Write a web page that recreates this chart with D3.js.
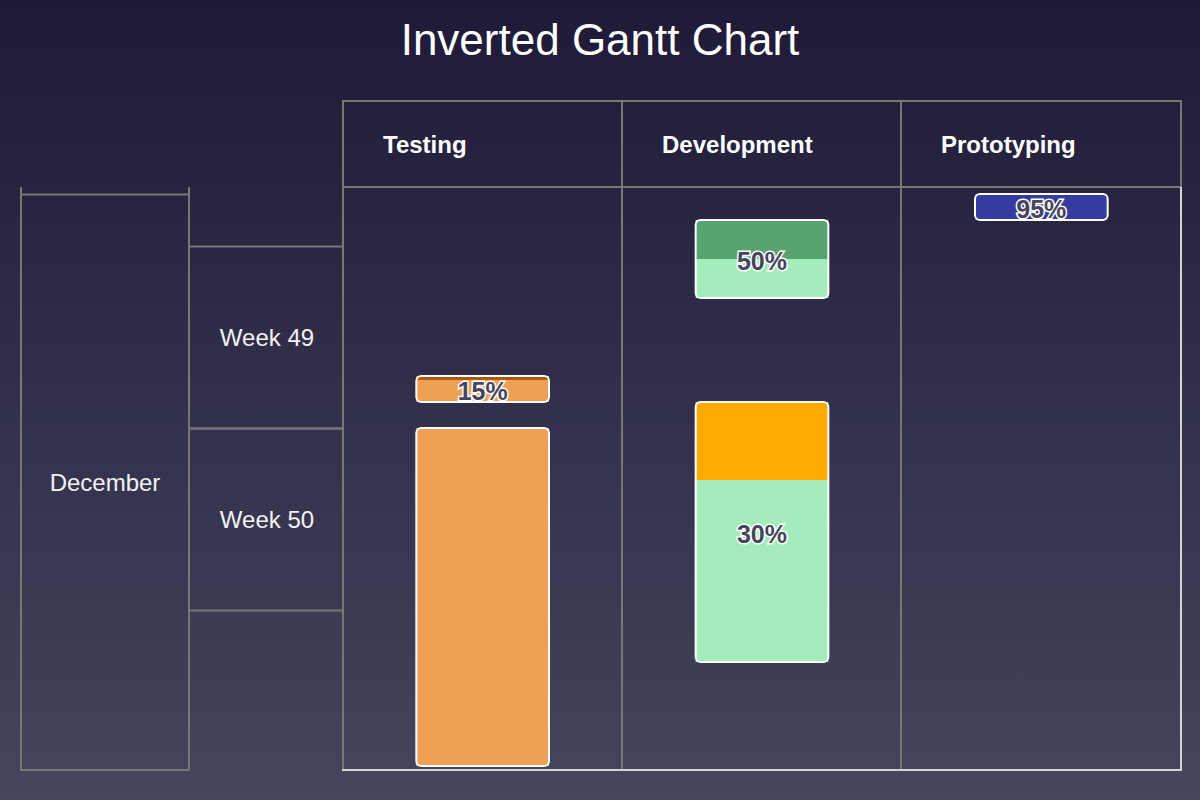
<!DOCTYPE html>
<html>
  <head>
    <title>Inverted Gantt Chart</title>
    <meta charset="utf-8">
    <style>
      body { margin: 0; }
      text { font-family: "Liberation Sans", Arial, sans-serif; }
      .grid { stroke: #777; stroke-width: 2px; fill: none; }
      .axis-line { stroke: #d4d4d4; stroke-width: 2px; }
      .pct {
        font-weight: bold;
        font-size: 25px;
        fill: #45455c;
        stroke: #fff;
        stroke-width: 3px;
        paint-order: stroke;
      }
    </style>
  </head>
  <body>
    <script src="https://cdn.jsdelivr.net/npm/d3@7"></script>
    <script>

// columns (task groups)
var categories = ['Testing', 'Development', 'Prototyping'];

// tasks
var taskCategory = ['Testing', 'Testing', 'Development', 'Development', 'Prototyping'];
var taskStart = ['2023-12-08', '2023-12-10', '2023-12-02', '2023-12-09', '2023-12-01'];
var taskEnd = ['2023-12-09', '2023-12-23', '2023-12-05', '2023-12-19', '2023-12-02'];
var taskProgress = [15, null, 50, 30, 95];

// time axis levels
var monthLabels = ['December'];
var monthStart = ['2023-12-01'];
var monthEnd = ['2024-01-01'];
var weekLabels = ['Week 49', 'Week 50'];
var weekStart = ['2023-12-03', '2023-12-10'];
var weekEnd = ['2023-12-10', '2023-12-17'];

// colours per task
var barColors = ['#f0a055', '#f0a055', '#a4ecbc', '#a4ecbc', '#363b9f'];
var progressColors = ['#a9580c', '#a9580c', '#58a470', '#ffaa00', '#363b9f'];

var parse = d3.timeParse('%Y-%m-%d');

var width = 1200;
var height = 800;
var plotLeft = 343, plotRight = 1181, plotTop = 187, plotBottom = 770;
var headerTop = 101;

var svg = d3.select('body').append('svg')
    .attr('width', width)
    .attr('height', height);

var defs = svg.append('defs');
var grad = defs.append('linearGradient')
    .attr('id', 'bg')
    .attr('x1', 0).attr('y1', 0).attr('x2', 0).attr('y2', 1);
grad.append('stop').attr('offset', 0).attr('stop-color', '#1e1a37');
grad.append('stop').attr('offset', 1).attr('stop-color', '#45455d');

svg.append('rect')
    .attr('width', width)
    .attr('height', height)
    .attr('fill', 'url(#bg)');

svg.append('text')
    .attr('x', width / 2)
    .attr('y', 55)
    .attr('text-anchor', 'middle')
    .attr('font-size', 44)
    .attr('fill', '#fff')
    .text('Inverted Gantt Chart');

var x = d3.scaleBand()
    .domain(categories)
    .range([plotLeft, plotRight]);

var y = d3.scaleTime()
    .domain([new Date(2023, 10, 30, 17, 6), new Date(2023, 11, 23, 3, 14)])
    .range([plotTop, plotBottom]);

function yc(d) { return Math.max(plotTop, Math.min(plotBottom, y(d))); }

// header
var header = svg.append('g');
header.append('rect')
    .attr('class', 'grid')
    .attr('x', plotLeft).attr('y', headerTop)
    .attr('width', plotRight - plotLeft)
    .attr('height', plotTop - headerTop);

header.selectAll('line')
    .data(categories.slice(1))
    .join('line')
    .attr('class', 'grid')
    .attr('x1', function (d) { return Math.floor(x(d)); })
    .attr('x2', function (d) { return Math.floor(x(d)); })
    .attr('y1', headerTop).attr('y2', plotTop);

header.selectAll('text')
    .data(categories)
    .join('text')
    .attr('x', function (d) { return Math.floor(x(d)) + 40; })
    .attr('y', 153)
    .attr('font-size', 24)
    .attr('font-weight', 'bold')
    .attr('fill', '#fff')
    .text(function (d) { return d; });

// plot grid
var grid = svg.append('g');
grid.selectAll('line.col')
    .data(categories)
    .join('line')
    .attr('class', 'grid col')
    .attr('x1', function (d) { return Math.floor(x(d)); })
    .attr('x2', function (d) { return Math.floor(x(d)); })
    .attr('y1', plotTop).attr('y2', plotBottom);

// month level
var monthX0 = 21, monthX1 = 189;
var months = svg.append('g');
months.append('line').attr('class', 'grid')
    .attr('x1', monthX0).attr('x2', monthX0).attr('y1', plotTop).attr('y2', plotBottom + 1);
months.append('line').attr('class', 'grid')
    .attr('x1', monthX1).attr('x2', monthX1).attr('y1', plotTop).attr('y2', plotBottom + 1);
months.append('line').attr('class', 'grid')
    .attr('x1', monthX0).attr('x2', monthX1).attr('y1', plotBottom).attr('y2', plotBottom);

monthLabels.forEach(function (label, i) {
  var y0 = yc(parse(monthStart[i])), y1 = yc(parse(monthEnd[i]));
  months.append('line').attr('class', 'grid')
      .attr('x1', monthX0).attr('x2', monthX1).attr('y1', y0).attr('y2', y0);
  months.append('text')
      .attr('x', (monthX0 + monthX1) / 2)
      .attr('y', (y0 + y1) / 2)
      .attr('dy', '0.35em')
      .attr('text-anchor', 'middle')
      .attr('font-size', 24)
      .attr('fill', '#f2f2f2')
      .text(label);
});

// week level
var weekX0 = monthX1, weekX1 = plotLeft;
var weeks = svg.append('g');
weekLabels.forEach(function (label, i) {
  var y0 = yc(parse(weekStart[i])), y1 = yc(parse(weekEnd[i]));
  weeks.append('line').attr('class', 'grid')
      .attr('x1', weekX0).attr('x2', weekX1).attr('y1', y0).attr('y2', y0);
  weeks.append('line').attr('class', 'grid')
      .attr('x1', weekX0).attr('x2', weekX1).attr('y1', y1).attr('y2', y1);
  weeks.append('text')
      .attr('x', (weekX0 + weekX1) / 2 + 1)
      .attr('y', (y0 + y1) / 2)
      .attr('dy', '0.35em')
      .attr('text-anchor', 'middle')
      .attr('font-size', 24)
      .attr('fill', '#f2f2f2')
      .text(label);
});

// axis lines (right + bottom)
svg.append('line').attr('class', 'axis-line')
    .attr('x1', plotRight).attr('x2', plotRight).attr('y1', plotTop).attr('y2', plotBottom + 1);
svg.append('line').attr('class', 'axis-line')
    .attr('x1', plotLeft - 1).attr('x2', plotRight + 1).attr('y1', plotBottom).attr('y2', plotBottom);

// bars
var barW = x.bandwidth() * 0.475;
var tasks = d3.range(taskCategory.length);
var bars = svg.append('g');

tasks.forEach(function (i) {
  var bx = x(taskCategory[i]) + x.bandwidth() / 2 - barW / 2;
  var by = y(parse(taskStart[i])) - 0.5;
  var bh = y(parse(taskEnd[i])) - 0.5 - by;

  defs.append('clipPath').attr('id', 'clip' + i)
    .append('rect')
      .attr('x', bx).attr('y', by)
      .attr('width', barW).attr('height', bh)
      .attr('rx', 5);

  var g = bars.append('g');
  g.append('rect')
      .attr('x', bx).attr('y', by)
      .attr('width', barW).attr('height', bh)
      .attr('fill', barColors[i]);

  if (taskProgress[i] != null) {
    g.append('rect')
        .attr('clip-path', 'url(#clip' + i + ')')
        .attr('x', bx).attr('y', by)
        .attr('width', barW)
        .attr('height', bh * taskProgress[i] / 100)
        .attr('fill', progressColors[i]);
  }

  g.append('rect')
      .attr('x', bx).attr('y', by)
      .attr('width', barW).attr('height', bh)
      .attr('rx', 5)
      .attr('fill', 'none')
      .attr('stroke', '#fff')
      .attr('stroke-width', 2);

  if (taskProgress[i] != null) {
    g.append('text')
        .attr('class', 'pct')
        .attr('x', bx + barW / 2)
        .attr('y', by + bh / 2 + 2)
        .attr('dy', '0.35em')
        .attr('text-anchor', 'middle')
        .text(taskProgress[i] + '%');
  }
});

    </script>
  </body>
</html>
